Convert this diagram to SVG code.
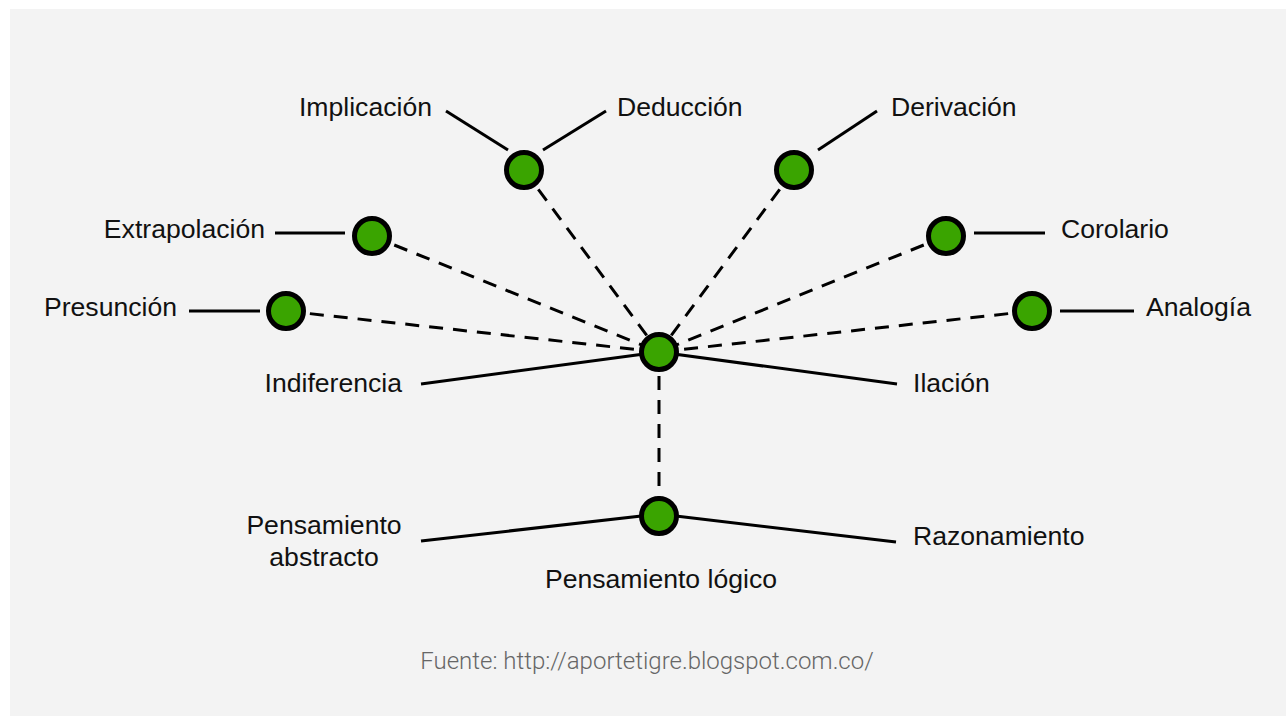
<svg xmlns="http://www.w3.org/2000/svg" width="1288" height="716" viewBox="0 0 1288 716">
<style>
.lbl{font-family:"Liberation Sans",Arial,sans-serif;font-size:26.6px;fill:#111}
.src{font-family:Roboto,"Liberation Sans",sans-serif;font-weight:300;font-size:24px;fill:#666}
.solid{stroke:#000;stroke-width:3;fill:none}
.dash{stroke:#000;stroke-width:3;fill:none;stroke-dasharray:14 10}
.node{fill:#3aa400;stroke:#000;stroke-width:5}
</style>
<rect x="0" y="0" width="1288" height="716" fill="#fff"/>
<rect x="10" y="9" width="1276" height="707" fill="#f3f3f3"/>
<g id="connectors">
<line class="solid" x1="446" y1="111" x2="508" y2="150"/>
<line class="solid" x1="543" y1="150" x2="606" y2="111"/>
<line class="solid" x1="818" y1="150" x2="877" y2="111"/>
<line class="solid" x1="275" y1="233" x2="345" y2="233"/>
<line class="solid" x1="974" y1="233" x2="1045" y2="233"/>
<line class="solid" x1="189" y1="311" x2="260" y2="311"/>
<line class="solid" x1="1060" y1="311" x2="1134" y2="311"/>
<line class="solid" x1="421" y1="384" x2="659" y2="352"/>
<line class="solid" x1="659" y1="352" x2="897" y2="384"/>
<line class="solid" x1="421" y1="541" x2="659" y2="514"/>
<line class="solid" x1="659" y1="514" x2="896" y2="542"/>
<line class="dash" x1="524" y1="170" x2="659" y2="352"/>
<line class="dash" x1="794" y1="170" x2="659" y2="352"/>
<line class="dash" x1="372" y1="236" x2="659" y2="352"/>
<line class="dash" x1="946" y1="236" x2="659" y2="352"/>
<line class="dash" x1="286" y1="311" x2="659" y2="352"/>
<line class="dash" x1="1032" y1="311" x2="659" y2="352"/>
<line class="dash" x1="659" y1="352" x2="659" y2="514"/>
</g>
<g id="node-implicacion-deduccion"><circle class="node" cx="524" cy="170" r="17.5"/><text class="lbl" x="432" y="116" text-anchor="end">Implicación</text><text class="lbl" x="617" y="116">Deducción</text></g>
<g id="node-derivacion"><circle class="node" cx="794" cy="170" r="17.5"/><text class="lbl" x="891" y="116">Derivación</text></g>
<g id="node-extrapolacion"><circle class="node" cx="372" cy="236" r="17.5"/><text class="lbl" x="265" y="238" text-anchor="end">Extrapolación</text></g>
<g id="node-corolario"><circle class="node" cx="946" cy="236" r="17.5"/><text class="lbl" x="1061" y="238">Corolario</text></g>
<g id="node-presuncion"><circle class="node" cx="286" cy="311" r="17.5"/><text class="lbl" x="177" y="316" text-anchor="end">Presunción</text></g>
<g id="node-analogia"><circle class="node" cx="1032" cy="311" r="17.5"/><text class="lbl" x="1146" y="316">Analogía</text></g>
<g id="node-center"><circle class="node" cx="659" cy="352" r="17.5"/><text class="lbl" x="402" y="392" text-anchor="end">Indiferencia</text><text class="lbl" x="913" y="392">Ilación</text></g>
<g id="node-pensamiento-logico"><circle class="node" cx="659" cy="516" r="17.5"/><text class="lbl" x="661" y="588" text-anchor="middle">Pensamiento lógico</text><text class="lbl" x="324" y="534" text-anchor="middle">Pensamiento</text><text class="lbl" x="324" y="566" text-anchor="middle">abstracto</text><text class="lbl" x="913" y="545">Razonamiento</text></g>
<text class="src" x="647" y="669" text-anchor="middle">Fuente: http://aportetigre.blogspot.com.co/</text>
</svg>
